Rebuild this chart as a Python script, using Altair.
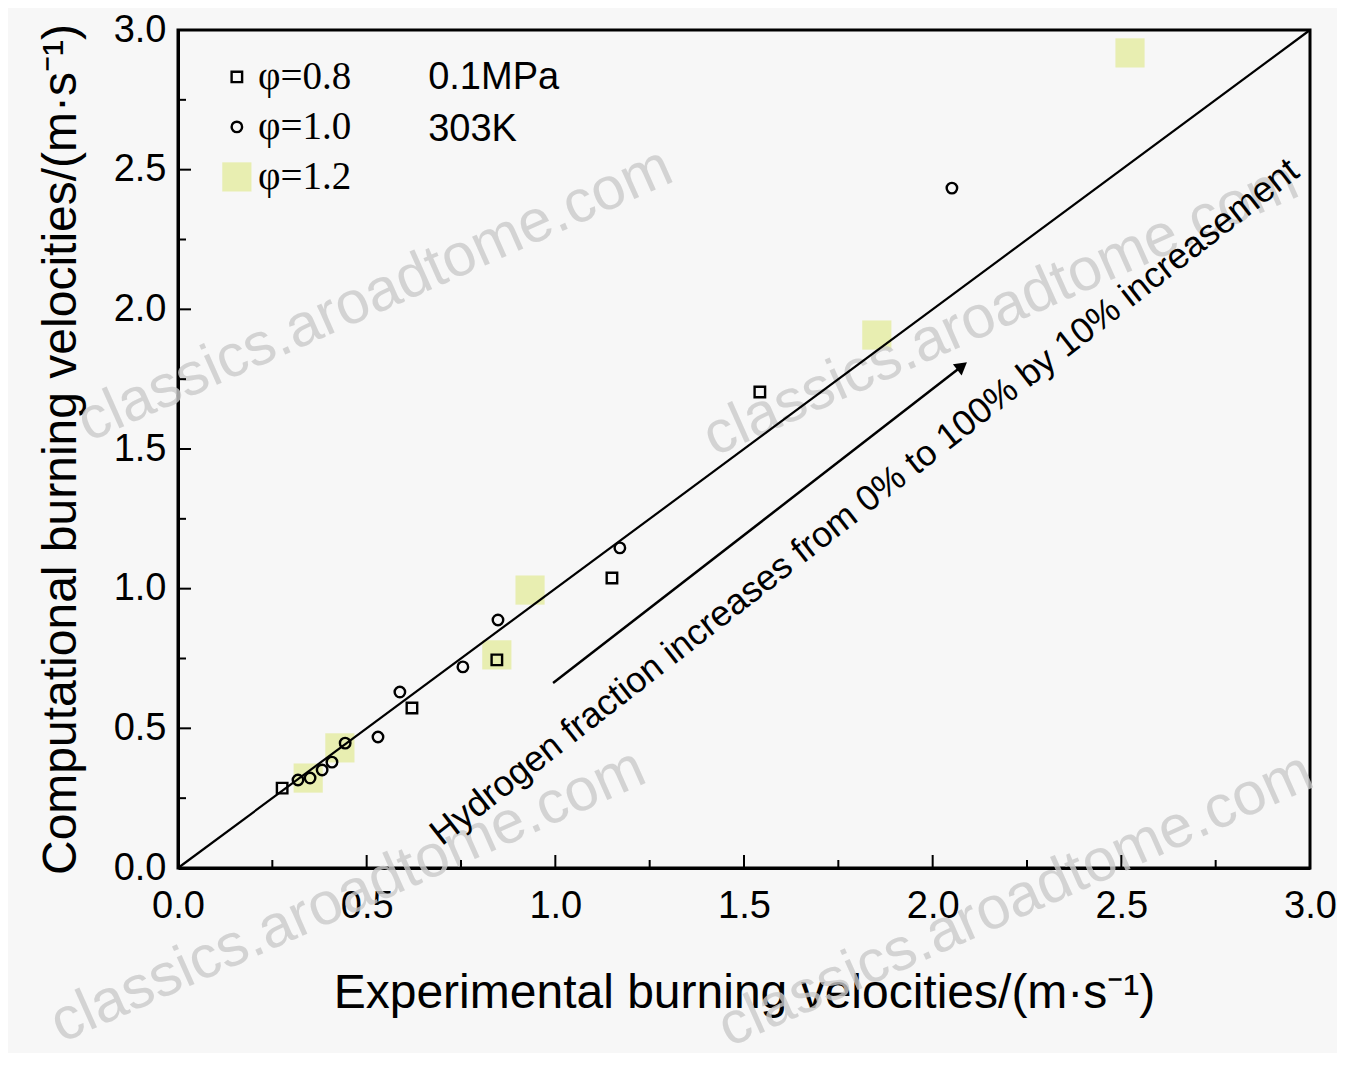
import altair as alt
import pandas as pd

# ---- data ----
sq_x = [0.276, 0.620, 0.845, 1.150, 1.542]
sq_y = [0.286, 0.573, 0.745, 1.038, 1.704]

ci_x = [0.318, 0.350, 0.382, 0.408, 0.443, 0.530, 0.588, 0.755, 0.848, 1.171, 2.051]
ci_y = [0.315, 0.322, 0.351, 0.379, 0.447, 0.469, 0.630, 0.720, 0.888, 1.146, 2.434]

ye_x = [0.345, 0.429, 0.845, 0.933, 1.852, 2.523]
ye_y = [0.322, 0.430, 0.763, 0.995, 1.908, 2.918]

major_ticks = [0.0, 0.5, 1.0, 1.5, 2.0, 2.5, 3.0]
minor_ticks = [0.25, 0.75, 1.25, 1.75, 2.25, 2.75]

legend_labels = ["φ=0.8", "φ=1.0", "φ=1.2"]
legend_shapes = ["square", "circle", "yellow"]
legend_sym_x = [0.156, 0.156, 0.156]
legend_y = [2.832, 2.653, 2.474]
legend_txt_x = [0.212, 0.212, 0.212]

cond_labels = ["0.1MPa", "303K"]
cond_x = [0.663, 0.663]
cond_y = [2.828, 2.642]

diag_x = [0.0, 3.0]
diag_y = [0.0, 3.0]

arrow_x = [0.994, 2.078]
arrow_y = [0.662, 1.797]
arrow_text = "Hydrogen fraction increases from 0% to 100% by 10% increasement"
arrow_text_x = [1.82]
arrow_text_y = [1.31]

wm_text = "classics.aroadtome.com"
wm_x = [0.522, 2.18, 0.45, 2.22]
wm_y = [2.052, 2.0, -0.10, -0.115]

W, H = 1132, 838
YELLOW = "#e5eca9"

xs = alt.Scale(domain=[0, 3], nice=False, zero=False)
ys = alt.Scale(domain=[0, 3], nice=False, zero=False)

sq = pd.DataFrame({"x": sq_x, "y": sq_y})
ci = pd.DataFrame({"x": ci_x, "y": ci_y})
ye = pd.DataFrame({"x": ye_x, "y": ye_y})
diag = pd.DataFrame({"x": diag_x, "y": diag_y})
arr = pd.DataFrame({"x": arrow_x, "y": arrow_y})
arr_head = arr.iloc[[1]]
leg = pd.DataFrame({"label": legend_labels, "shape": legend_shapes,
                    "sx": legend_sym_x, "tx": legend_txt_x, "y": legend_y})
cond = pd.DataFrame({"label": cond_labels, "x": cond_x, "y": cond_y})
atxt = pd.DataFrame({"label": [arrow_text], "x": arrow_text_x, "y": arrow_text_y})
wm = pd.DataFrame({"label": [wm_text] * len(wm_x), "x": wm_x, "y": wm_y})
majors = pd.DataFrame({"v": major_ticks})
minors = pd.DataFrame({"v": minor_ticks})

x_axis = alt.Axis(values=major_ticks, format=".1f", grid=False, ticks=False,
                  labelFontSize=38, labelFont="Liberation Sans", labelColor="black",
                  labelPadding=19, domainColor="black", domainWidth=3,
                  title="Experimental burning velocities/(m·s⁻¹)",
                  titleFontSize=48, titleFont="Liberation Sans", titleFontWeight="normal",
                  titleColor="black", titlePadding=44, labelFlush=False)
y_axis = alt.Axis(values=major_ticks, format=".1f", grid=False, ticks=False,
                  labelFontSize=38, labelFont="Liberation Sans", labelColor="black",
                  labelPadding=12, domainColor="black", domainWidth=3,
                  title="Computational burning velocities/(m·s⁻¹)",
                  titleFontSize=48, titleFont="Liberation Sans", titleFontWeight="normal",
                  titleColor="black", titlePadding=28, labelFlush=False)

wm_layer = alt.Chart(wm).mark_text(fontSize=60, font="Liberation Sans", angle=336,
                                   color="#cbcbcb", opacity=0.8, clip=False).encode(
    x=alt.X("x:Q", scale=xs), y=alt.Y("y:Q", scale=ys), text="label:N")

yellow_layer = alt.Chart(ye).mark_square(size=850, color=YELLOW, opacity=0.9).encode(
    x=alt.X("x:Q", scale=xs, axis=x_axis), y=alt.Y("y:Q", scale=ys, axis=y_axis))

diag_layer = alt.Chart(diag).mark_line(color="black", strokeWidth=2.2).encode(
    x=alt.X("x:Q", scale=xs), y=alt.Y("y:Q", scale=ys))

sq_layer = alt.Chart(sq).mark_point(shape="square", filled=False, color="black",
                                    size=110, strokeWidth=2.4, opacity=1).encode(
    x=alt.X("x:Q", scale=xs), y=alt.Y("y:Q", scale=ys))

ci_layer = alt.Chart(ci).mark_point(shape="circle", filled=False, color="black",
                                    size=110, strokeWidth=2.4, opacity=1).encode(
    x=alt.X("x:Q", scale=xs), y=alt.Y("y:Q", scale=ys))

arrow_line = alt.Chart(arr).mark_line(color="black", strokeWidth=2.5).encode(
    x=alt.X("x:Q", scale=xs), y=alt.Y("y:Q", scale=ys))
arrow_head = alt.Chart(arr_head).mark_point(shape="triangle-up", filled=True, color="black",
                                            size=200, angle=52, opacity=1).encode(
    x=alt.X("x:Q", scale=xs), y=alt.Y("y:Q", scale=ys))

arrow_label = alt.Chart(atxt).mark_text(fontSize=36, font="Liberation Sans", angle=322,
                                        color="black", align="center", baseline="middle").encode(
    x=alt.X("x:Q", scale=xs), y=alt.Y("y:Q", scale=ys), text="label:N")

leg_sq = alt.Chart(leg[leg["shape"] == "square"]).mark_point(
    shape="square", filled=False, color="black", size=110, strokeWidth=2.4, opacity=1).encode(
    x=alt.X("sx:Q", scale=xs), y=alt.Y("y:Q", scale=ys))
leg_ci = alt.Chart(leg[leg["shape"] == "circle"]).mark_point(
    shape="circle", filled=False, color="black", size=110, strokeWidth=2.4, opacity=1).encode(
    x=alt.X("sx:Q", scale=xs), y=alt.Y("y:Q", scale=ys))
leg_ye = alt.Chart(leg[leg["shape"] == "yellow"]).mark_square(
    size=850, color=YELLOW, opacity=0.9).encode(
    x=alt.X("sx:Q", scale=xs), y=alt.Y("y:Q", scale=ys))
leg_txt = alt.Chart(leg).mark_text(fontSize=39, font="Liberation Serif", color="black",
                                   align="left", baseline="middle").encode(
    x=alt.X("tx:Q", scale=xs), y=alt.Y("y:Q", scale=ys), text="label:N")

cond_txt = alt.Chart(cond).mark_text(fontSize=38, font="Liberation Sans", color="black",
                                     align="left", baseline="middle").encode(
    x=alt.X("x:Q", scale=xs), y=alt.Y("y:Q", scale=ys), text="label:N")

xt_major = alt.Chart(majors).mark_rule(color="black", strokeWidth=2).encode(
    x=alt.X("v:Q", scale=xs), y=alt.value(H), y2=alt.value(H - 13))
xt_minor = alt.Chart(minors).mark_rule(color="black", strokeWidth=2).encode(
    x=alt.X("v:Q", scale=xs), y=alt.value(H), y2=alt.value(H - 8))
yt_major = alt.Chart(majors).mark_rule(color="black", strokeWidth=2).encode(
    y=alt.Y("v:Q", scale=ys), x=alt.value(0), x2=alt.value(13))
yt_minor = alt.Chart(minors).mark_rule(color="black", strokeWidth=2).encode(
    y=alt.Y("v:Q", scale=ys), x=alt.value(0), x2=alt.value(8))

chart = alt.layer(
    yellow_layer, wm_layer, diag_layer, sq_layer, ci_layer,
    arrow_line, arrow_head, arrow_label,
    leg_ye, leg_sq, leg_ci, leg_txt, cond_txt,
    xt_major, xt_minor, yt_major, yt_minor,
).properties(
    width=W, height=H,
    padding={"left": 170, "top": 22, "right": 27, "bottom": 185},
    autosize=alt.AutoSizeParams(type="none"),
    background="#f7f7f7",
).configure_view(
    stroke="black", strokeWidth=3
)

chart.save("out.html", embed_options={"renderer": "svg", "actions": False})
